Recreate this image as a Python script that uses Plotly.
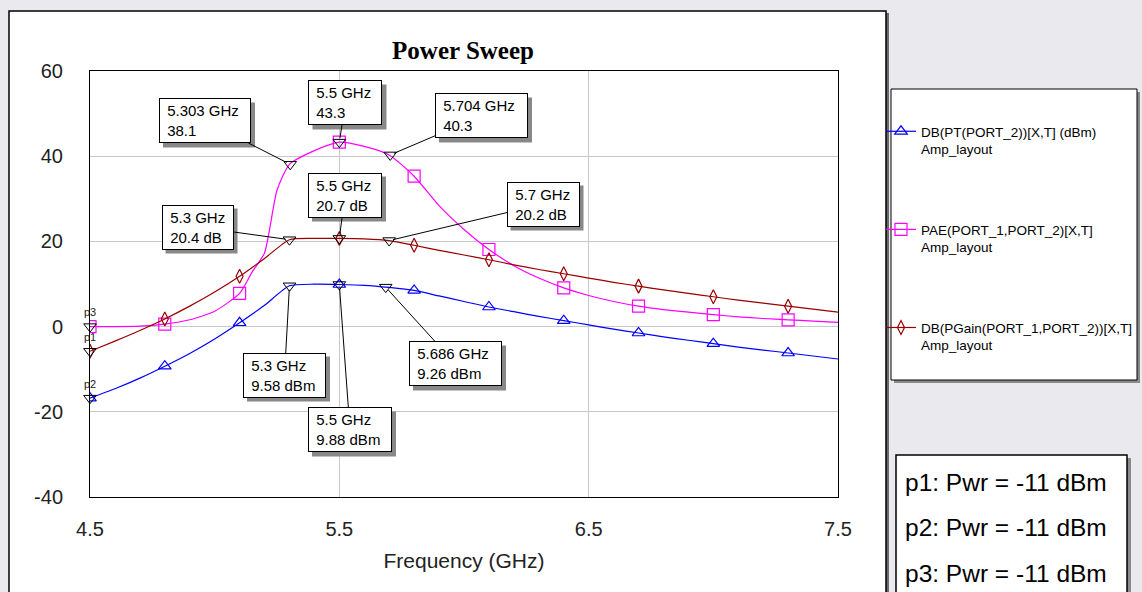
import plotly.graph_objects as go

# ---------------- data ----------------
freq = [4.5, 4.6, 4.7, 4.8, 4.9, 5.0, 5.1, 5.2, 5.3, 5.4, 5.5, 5.6, 5.7, 5.8, 5.9, 6.0,
        6.1, 6.2, 6.3, 6.4, 6.5, 6.6, 6.7, 6.8, 6.9, 7.0, 7.1, 7.2, 7.3, 7.4, 7.5]
pout = [-16.8, -14.6, -12.1, -9.3, -6.3, -2.9, 0.9, 5.0, 9.58, 9.95, 9.88, 9.7, 9.2, 8.5, 7.2, 5.9,
        4.6, 3.5, 2.4, 1.4, 0.4, -0.6, -1.5, -2.4, -3.2, -4.0, -4.8, -5.5, -6.2, -6.9, -7.6]
gain = [-5.8, -3.4, -0.9, 1.8, 4.8, 8.1, 11.8, 16.0, 20.4, 20.7, 20.7, 20.6, 20.2, 19.1, 17.9, 16.8,
        15.7, 14.5, 13.4, 12.4, 11.4, 10.4, 9.5, 8.6, 7.8, 7.0, 6.2, 5.5, 4.8, 4.1, 3.4]
pae_freq = [4.5, 4.6, 4.7, 4.8, 4.9, 5.0, 5.1, 5.15, 5.2, 5.25, 5.3, 5.4, 5.5, 5.6, 5.7, 5.8, 5.9,
            6.0, 6.1, 6.2, 6.3, 6.4, 6.5, 6.6, 6.7, 6.8, 6.9, 7.0, 7.1, 7.2, 7.3, 7.4, 7.5]
pae = [0.0, 0.0, 0.1, 0.6, 1.6, 3.6, 7.8, 12.8, 17.3, 32.0, 38.1, 41.3, 43.3, 42.3, 40.3, 35.3, 28.4,
       22.8, 18.1, 14.3, 11.4, 9.1, 7.3, 5.9, 4.8, 4.0, 3.4, 2.8, 2.3, 1.9, 1.6, 1.3, 1.0]
symbol_freq = [4.5, 4.8, 5.1, 5.5, 5.8, 6.1, 6.4, 6.7, 7.0, 7.3]

series_names = ["DB(PT(PORT_2))[X,T] (dBm)", "PAE(PORT_1,PORT_2)[X,T]", "DB(PGain(PORT_1,PORT_2))[X,T]"]
doc_name = "Amp_layout"

mk_freq = [5.303, 5.5, 5.704, 5.3, 5.5, 5.7, 5.3, 5.5, 5.686]
mk_val = [38.1, 43.3, 40.3, 20.4, 20.7, 20.2, 9.58, 9.88, 9.26]
mk_unit = ["", "", "", " dB", " dB", " dB", " dBm", " dBm", " dBm"]

p_labels = ["p1", "p2", "p3"]
p_pwr = [-11, -11, -11]

x_ticks = [4.5, 5.5, 6.5, 7.5]
y_ticks = [-40, -20, 0, 20, 40, 60]
x_range = [4.5, 7.5]
y_range = [-40, 60]

# ---------------- geometry (pixels) ----------------
W, H = 1142, 592
L, R, T, B = 90, 838, 71, 497


def fx(px):
    return (px - L) / (R - L)


def fy(py):
    return (B - py) / (B - T)


def to_px(f, v):
    return (L + (f - x_range[0]) / (x_range[1] - x_range[0]) * (R - L),
            B - (v - y_range[0]) / (y_range[1] - y_range[0]) * (B - T))


# annotation box centres / widths (layout), same order as the marker lists
box_cx = [205, 345.5, 481.5, 197.5, 345, 543, 284.5, 350, 455.5]
box_cy = [121, 103, 116, 227, 195, 204, 375, 430, 364]
box_w = [92, 74, 93, 72, 74, 73, 83, 84, 93]
box_h = 45

BLUE, PINK, BROWN = "#0000ff", "#ff00ff", "#990000"

fig = go.Figure()


def sel_idx(xs):
    return [i for i, f in enumerate(xs) if any(abs(f - s) < 1e-6 for s in symbol_freq)]


specs = [
    (freq, pout, series_names[0], BLUE, "triangle-up-open", 11),
    (pae_freq, pae, series_names[1], PINK, "square-open", 12),
    (freq, gain, series_names[2], BROWN, "diamond-tall-open", 10),
]
for i, (xs, ys, nm, col, sym, sz) in enumerate(specs):
    fig.add_trace(go.Scatter(
        x=xs, y=ys, mode="lines+markers", name=nm + "<br>" + doc_name,
        legendgroup="g%d" % i,
        line=dict(color=col, width=1.2, shape="spline", smoothing=0.6),
        marker=dict(symbol=sym, size=sz, color=col, line=dict(width=1.2, color=col)),
        selectedpoints=sel_idx(xs),
        selected=dict(marker=dict(opacity=1)),
        unselected=dict(marker=dict(opacity=0)),
    ))

# marker points
fig.add_trace(go.Scatter(
    x=mk_freq, y=mk_val, mode="markers", showlegend=False, cliponaxis=False,
    marker=dict(symbol="triangle-down-open", size=11, color="black", line=dict(width=1, color="black")),
))
p_x = [freq[0], freq[0], pae_freq[0]]
p_y = [gain[0], pout[0], pae[0]]
fig.add_trace(go.Scatter(
    x=p_x, y=p_y, mode="markers+text", showlegend=False, cliponaxis=False,
    text=p_labels, textposition="top center", textfont=dict(size=11, color="#222", family="Liberation Sans"),
    marker=dict(symbol="triangle-down-open", size=11, color="black", line=dict(width=1, color="black")),
))


# ---------------- shapes ----------------
def rect(x0, y0, x1, y1, fill, line_col=None, lw=0, layer="below"):
    return dict(type="rect", xref="paper", yref="paper", x0=fx(x0), x1=fx(x1), y0=fy(y1), y1=fy(y0),
                fillcolor=fill, line=dict(color=line_col or fill, width=lw), layer=layer)


shapes = [
    rect(886, 13, 889, 640, "#6a6a6a"),
    rect(9, 11, 886, 640, "white", "black", 1.5),
    rect(894, 92, 1140, 383, "#8a8a8a"),
    rect(891, 89, 1137, 380, "white", "black", 1),
    rect(899, 458, 1131, 640, "#8a8a8a"),
    rect(896, 455, 1127, 640, "white", "black", 1.5),
]

# ---------------- annotations ----------------
anns = []
for f, v, u, cx, cy, w in zip(mk_freq, mk_val, mk_unit, box_cx, box_cy, box_w):
    px, py = to_px(f, v)
    ax, ay = cx - px, cy - py
    txt = "\u00a0%g GHz<br>\u00a0%g%s" % (f, v, u)
    shapes.append(rect(cx - w / 2 + 4, cy - box_h / 2 + 4, cx + w / 2 + 4, cy + box_h / 2 + 4,
                       "#888888", layer="above"))
    anns.append(dict(x=f, y=v, xref="x", yref="y", text=txt, align="left", width=w - 8,
                     borderpad=3, borderwidth=1,
                     showarrow=True, arrowhead=0, arrowwidth=1, arrowcolor="black",
                     ax=ax, ay=ay, standoff=4,
                     font=dict(size=15, color="black", family="Liberation Sans"),
                     bgcolor="white", bordercolor="black"))

# p box text
p_rows = [482, 527, 573]
for lab, pw, py in zip(p_labels, p_pwr, p_rows):
    anns.append(dict(x=fx(903), y=fy(py), xref="paper", yref="paper", xanchor="left", yanchor="middle",
                     showarrow=False, text="%s: Pwr = %d dBm" % (lab, pw),
                     font=dict(size=24.5, color="black", family="Liberation Sans")))

axis_common = dict(showgrid=True, gridcolor="#c8c8c8", gridwidth=1, zeroline=False,
                   showline=True, linecolor="black", linewidth=1, mirror=True,
                   ticks="outside", tickcolor="rgba(0,0,0,0)",
                   tickfont=dict(size=20, color="#222", family="Liberation Sans"))

fig.update_layout(
    width=W, height=H,
    margin=dict(l=L, r=W - R, t=T, b=H - B, autoexpand=False),
    paper_bgcolor="#e9e9ee", plot_bgcolor="rgba(0,0,0,0)",
    title=dict(text="<b>Power Sweep</b>", x=fx(463), xref="paper", xanchor="center",
               y=1 - 50 / H, yref="container", yanchor="middle",
               font=dict(family="Liberation Serif", size=25, color="black")),
    xaxis=dict(axis_common, range=x_range, tickvals=x_ticks, ticktext=["%g" % t for t in x_ticks],
               ticklen=14,
               title=dict(text="Frequency (GHz)", standoff=14,
                          font=dict(size=21, color="#222", family="Liberation Sans"))),
    yaxis=dict(axis_common, range=y_range, tickvals=y_ticks, ticktext=["%d" % t for t in y_ticks],
               ticklen=22),
    showlegend=True,
    legend=dict(x=fx(881), y=fy(116), xanchor="left", yanchor="top", xref="paper", yref="paper",
                bgcolor="rgba(0,0,0,0)", borderwidth=0, valign="top", tracegroupgap=60,
                font=dict(size=13.5, color="black", family="Liberation Sans")),
    annotations=anns, shapes=shapes,
)

fig.write_html("out.html")
